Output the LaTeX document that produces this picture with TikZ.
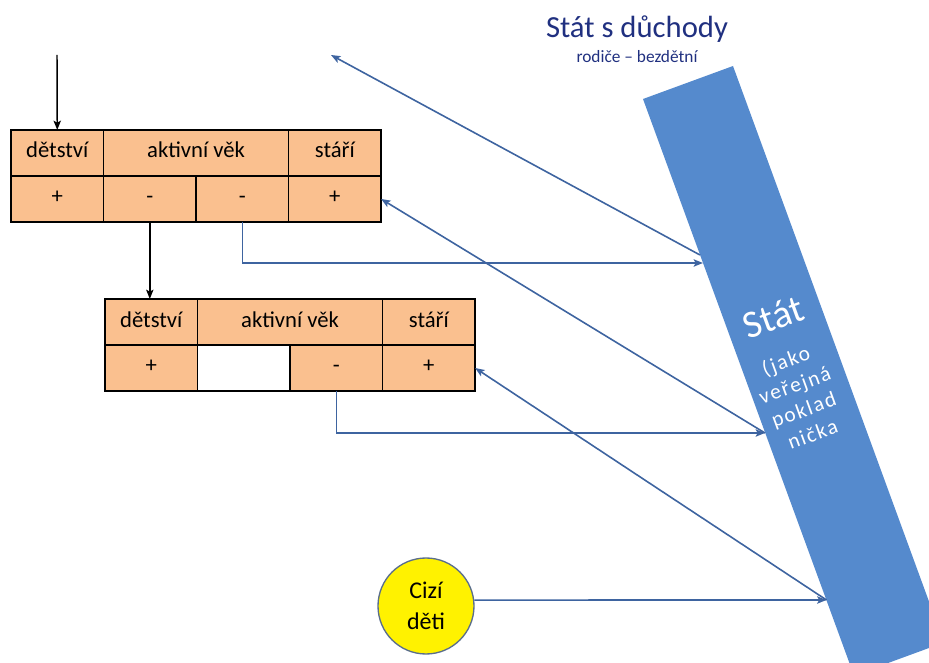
\documentclass[tikz,border=0pt]{standalone}
\usepackage{fontspec}
\setmainfont{Carlito}
\newfontfamily\spacedfont[LetterSpace=8]{Carlito}
\usetikzlibrary{positioning,arrows.meta}
\definecolor{cellfill}{RGB}{250,192,143}
\definecolor{barblue}{RGB}{85,138,205}
\definecolor{linkblue}{RGB}{62,100,160}
\definecolor{titleblue}{RGB}{32,48,128}
\definecolor{ringgray}{RGB}{90,110,140}

\begin{document}
\begin{tikzpicture}[x=0.75pt,y=0.75pt,yscale=-1,xscale=1,
  cell/.style={draw=black,line width=1.1pt,fill=cellfill,minimum width=69.4pt,minimum height=34.5pt,inner sep=0pt,outer sep=0pt,text height=0.9em,text depth=0.15em,font=\fontsize{17}{20}\selectfont},
  widecell/.style={cell,minimum width=138.8pt},
  blackarrow/.style={draw=black,line width=1.1pt,-{Stealth[length=7pt,width=5.5pt,inset=1.5pt]}},
  linkarrow/.style={draw=linkblue,line width=1.2pt,-{Stealth[length=7pt,width=5.5pt,inset=1.5pt]}}]
\clip (0,0) rectangle (929,663);

%Shape: Polygon (bar)
\coordinate (barTL) at (643,99);
\coordinate (barTR) at (733,66);
\coordinate (barBR) at (944,642.5);
\coordinate (barBL) at (854,675.5);
\fill [barblue] (barTL) -- (barTR) -- (barBR) -- (barBL) -- cycle ;
% points on the bar edge
\coordinate (d1) at (700,255);
\coordinate (s1) at (703,263);
\coordinate (s2) at (765,433);
\coordinate (s3) at (826.5,600);
\coordinate (in) at (57,55);
\coordinate (back) at (331,55);

% Text Node
\node [text=white,rotate=20,font=\fontsize{29}{32}\selectfont] (stat) at (773,317) {Stát};
% Text Node
\node [text=white,rotate=20,align=center,font=\spacedfont\fontsize{16}{19.5}\selectfont] (pokladna) at (799,397) {(jako\\veřejná\\poklad\\nička};

% Text Node
\node [text=titleblue,font=\fontsize{23}{26}\selectfont] (title) at (637,29) {Stát s důchody};
% Text Node
\node [text=titleblue,font=\fontsize{13}{15}\selectfont] (subtitle) at (637,57) {rodiče – bezdětní};

%Shape: Table 1
\node [cell,anchor=north west] (t1det) at (11,130) {dětství};
\node [widecell,right=0pt of t1det] (t1akt) {aktivní věk};
\node [cell,right=0pt of t1akt] (t1sta) {stáří};
\node [cell,below=0pt of t1det] (t1p1) {+};
\node [cell,right=0pt of t1p1] (t1m1) {-};
\node [cell,right=0pt of t1m1] (t1m2) {-};
\node [cell,right=0pt of t1m2] (t1p2) {+};

%Shape: Table 2
\node [cell,anchor=north west] (t2det) at (105,299) {dětství};
\node [widecell,right=0pt of t2det] (t2akt) {aktivní věk};
\node [cell,right=0pt of t2akt] (t2sta) {stáří};
\node [cell,below=0pt of t2det] (t2p1) {+};
\node [cell,fill=white,right=0pt of t2p1] (t2blank) {};
\node [cell,right=0pt of t2blank] (t2m) {-};
\node [cell,right=0pt of t2m] (t2p2) {+};

%Shape: Circle
\node [circle,draw=ringgray,line width=1pt,fill=yellow,minimum size=72pt,inner sep=0pt,align=center,font=\fontsize{18}{23}\selectfont] (cizi) at (426,606) {Cizí\\děti};

%Straight Lines
\draw [blackarrow] (in) -- (t1det.north) ;
%Straight Lines
\draw [blackarrow] (t1m1.south) -- (t1m1.south |- t2det.north) ;
%Straight Lines
\draw [linkarrow] (t1m2.south) |- (s1) ;
%Straight Lines
\draw [linkarrow] (t2m.south) |- (s2) ;
%Straight Lines
\draw [linkarrow] (cizi.7) -- (s3) ;
%Straight Lines
\draw [linkarrow] (d1) -- (back) ;
%Straight Lines
\draw [linkarrow] (s2) -- (t1p2.east) ;
%Straight Lines
\draw [linkarrow] (s3) -- (t2p2.east) ;

\end{tikzpicture}
\end{document}
